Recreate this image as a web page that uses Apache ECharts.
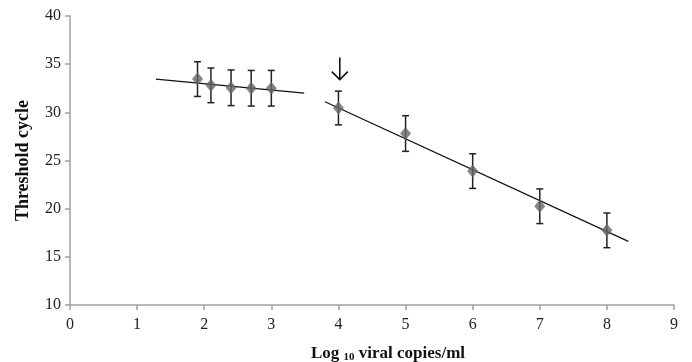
<!DOCTYPE html>
<html>
<head>
<meta charset="utf-8">
<script src="https://cdn.jsdelivr.net/npm/echarts@6/dist/echarts.min.js"></script>
<style>
  html, body { margin: 0; padding: 0; background: #fff; }
  #chart { width: 692px; height: 362px; }
</style>
</head>
<body>
<div id="chart"></div>
<script>
// log10 viral copies/ml vs threshold cycle
const logCopies = [1.9, 2.1, 2.4, 2.7, 3.0, 4, 5, 6, 7, 8];
const ctMean = [33.45, 32.8, 32.55, 32.5, 32.5, 30.45, 27.8, 23.9, 20.25, 17.75];
const ctErr = [1.8, 1.8, 1.85, 1.85, 1.85, 1.75, 1.85, 1.8, 1.8, 1.8];

// fitted lines (end points as drawn)
const lowFitX = [1.28, 3.49];
const lowFitY = [33.45, 32.0];
const highFitX = [3.8, 8.32];
const highFitY = [31.1, 16.6];

// arrow marking x = 4
const arrowX = 4.02;
const arrowFromTo = [35.7, 33.4];

const xTicks = [0, 1, 2, 3, 4, 5, 6, 7, 8, 9];
const yTicks = [10, 15, 20, 25, 30, 35, 40];

const serif = '"Liberation Serif", "DejaVu Serif", serif';
const chart = echarts.init(document.getElementById('chart'));

const errData = logCopies.map((x, i) => [x, ctMean[i] - ctErr[i], ctMean[i] + ctErr[i]]);

const option = {
  animation: false,
  grid: { left: 70, right: 18, top: 16, bottom: 57, outerBoundsMode: 'none' },
  xAxis: {
    type: 'value',
    min: xTicks[0],
    max: xTicks[xTicks.length - 1],
    interval: 1,
    name: '{b|Log }{s|10}{b| viral copies/ml}',
    nameLocation: 'middle',
    nameGap: 40,
    nameTextStyle: {
      padding: [0, 0, 0, 32],
      rich: {
        b: { fontFamily: serif, fontWeight: 'bold', fontSize: 17, color: '#111' },
        s: { fontFamily: serif, fontWeight: 'bold', fontSize: 11, color: '#111', verticalAlign: 'bottom', padding: [7, 0, 0, 0] }
      }
    },
    axisLine: { lineStyle: { color: '#a0a0a0', width: 1.5 } },
    axisTick: { show: true, length: 5, lineStyle: { color: '#a0a0a0', width: 1.5 } },
    axisLabel: { fontFamily: serif, fontSize: 16, color: '#222', margin: 12 },
    splitLine: { show: false }
  },
  yAxis: {
    type: 'value',
    min: yTicks[0],
    max: yTicks[yTicks.length - 1],
    interval: 5,
    name: 'Threshold cycle',
    nameLocation: 'middle',
    nameGap: 38,
    nameTextStyle: { fontFamily: serif, fontWeight: 'bold', fontSize: 18, color: '#111' },
    axisLine: { show: true, lineStyle: { color: '#a0a0a0', width: 1.5 } },
    axisTick: { show: true, length: 5, lineStyle: { color: '#a0a0a0', width: 1.5 } },
    axisLabel: { fontFamily: serif, fontSize: 16, color: '#222', margin: 9 },
    splitLine: { show: false }
  },
  series: [
    {
      type: 'line',
      data: lowFitX.map((x, i) => [x, lowFitY[i]]),
      symbol: 'none',
      lineStyle: { color: '#111', width: 1.3 },
      z: 2
    },
    {
      type: 'line',
      data: highFitX.map((x, i) => [x, highFitY[i]]),
      symbol: 'none',
      lineStyle: { color: '#111', width: 1.3 },
      z: 2
    },
    {
      type: 'scatter',
      data: logCopies.map((x, i) => [x, ctMean[i]]),
      symbol: 'diamond',
      symbolSize: [11, 13],
      itemStyle: { color: '#666' },
      z: 4
    },
    {
      type: 'custom',
      data: errData,
      z: 3,
      renderItem: function (params, api) {
        const lo = api.coord([api.value(0), api.value(1)]);
        const hi = api.coord([api.value(0), api.value(2)]);
        const cap = 3.5;
        const style = { stroke: '#222', lineWidth: 1.5 };
        return {
          type: 'group',
          children: [
            { type: 'line', shape: { x1: lo[0], y1: lo[1], x2: hi[0], y2: hi[1] }, style: style },
            { type: 'line', shape: { x1: lo[0] - cap, y1: lo[1], x2: lo[0] + cap, y2: lo[1] }, style: style },
            { type: 'line', shape: { x1: hi[0] - cap, y1: hi[1], x2: hi[0] + cap, y2: hi[1] }, style: style }
          ]
        };
      }
    },
    {
      type: 'custom',
      data: [[arrowX, arrowFromTo[0], arrowFromTo[1]]],
      z: 5,
      renderItem: function (params, api) {
        const top = api.coord([api.value(0), api.value(1)]);
        const tip = api.coord([api.value(0), api.value(2)]);
        const style = { stroke: '#111', lineWidth: 1.6, fill: null };
        return {
          type: 'group',
          children: [
            { type: 'line', shape: { x1: top[0], y1: top[1], x2: tip[0], y2: tip[1] }, style: style },
            { type: 'polyline', shape: { points: [[tip[0] - 8, tip[1] - 8], [tip[0], tip[1]], [tip[0] + 8, tip[1] - 8]] }, style: style }
          ]
        };
      }
    }
  ]
};

chart.setOption(option);
</script>
</body>
</html>
